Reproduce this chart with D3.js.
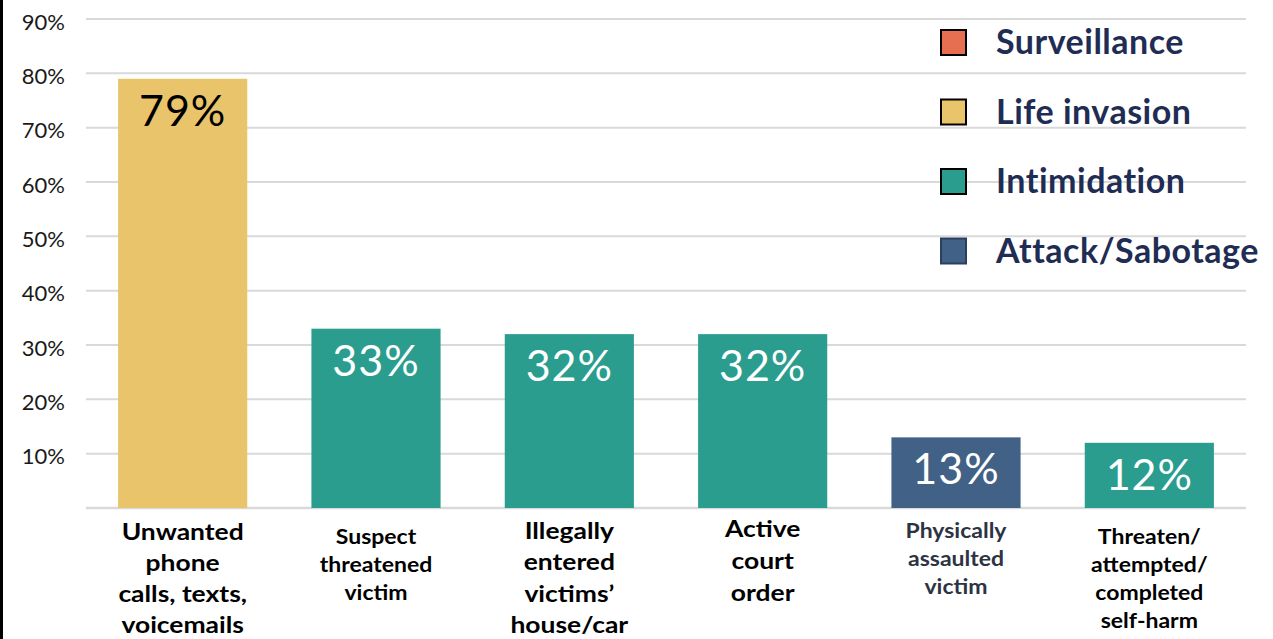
<!DOCTYPE html>
<html>
<head>
<meta charset="utf-8">
<script src="https://cdn.jsdelivr.net/npm/d3@7"></script>
<style>
  html, body { margin: 0; padding: 0; background: #fff; }
  svg { display: block; }
</style>
</head>
<body>
<svg id="chart" width="1273" height="639"></svg>
<script>
// Share of cases showing each stalking behaviour
const categories = [
  ["Unwanted", "phone", "calls, texts,", "voicemails"],
  ["Suspect", "threatened", "victim"],
  ["Illegally", "entered", "victims\u2019", "house/car"],
  ["Active", "court", "order"],
  ["Physically", "assaulted", "victim"],
  ["Threaten/", "attempted/", "completed", "self-harm"]
];
const values = [79, 33, 32, 32, 13, 12];
const groups = ["Life invasion", "Intimidation", "Intimidation", "Intimidation", "Attack/Sabotage", "Intimidation"];

const legendNames = ["Surveillance", "Life invasion", "Intimidation", "Attack/Sabotage"];
const legendColors = ["#e76f51", "#e9c46a", "#2a9d8f", "#416186"];

const yTicks = [10, 20, 30, 40, 50, 60, 70, 80, 90];

// per-category label styling (font size, line spacing, first baseline, colour)
const labelStyle = [
  { size: 23, lh: 31, y0: 540, fill: "#000" },
  { size: 20, lh: 28, y0: 544, fill: "#000" },
  { size: 23, lh: 31.5, y0: 539, fill: "#000" },
  { size: 23, lh: 32, y0: 537, fill: "#000" },
  { size: 20, lh: 28, y0: 538, fill: "#2c3444" },
  { size: 20, lh: 28, y0: 544, fill: "#000" }
];
const labelWiden = 1.15;

const svg = d3.select("#chart");
const W = 1273, H = 639;

const color = d3.scaleOrdinal().domain(legendNames).range(legendColors);

const x = d3.scaleBand()
  .domain(d3.range(values.length))
  .range([86, 1246])
  .paddingInner(0.332)
  .paddingOuter(0.166);

const y = d3.scaleLinear().domain([0, 90]).range([508, 19]);

// left frame line
svg.append("line")
  .attr("x1", 1.5).attr("x2", 1.5).attr("y1", 0).attr("y2", H)
  .attr("stroke", "#000").attr("stroke-width", 3);

// horizontal gridlines including the baseline
svg.append("g")
  .selectAll("line")
  .data([0].concat(yTicks))
  .join("line")
  .attr("x1", 86).attr("x2", 1246)
  .attr("y1", d => y(d)).attr("y2", d => y(d))
  .attr("stroke", "#d9d9d9")
  .attr("stroke-width", d => d === 0 ? 2.5 : 2);

// y-axis tick labels
const yAxis = d3.axisLeft(y)
  .tickValues(yTicks)
  .tickFormat(d => d + "%")
  .tickSize(0)
  .tickPadding(0);

const gy = svg.append("g")
  .attr("transform", "translate(65,3)")
  .call(yAxis);
gy.select(".domain").remove();
gy.selectAll("text")
  .attr("font-family", "Lato, sans-serif")
  .attr("font-size", 22)
  .attr("fill", "#1a1a1a");

// bars
svg.append("g")
  .selectAll("rect")
  .data(values)
  .join("rect")
  .attr("x", (d, i) => x(i))
  .attr("width", x.bandwidth())
  .attr("y", d => y(d))
  .attr("height", d => y(0) - y(d))
  .attr("fill", (d, i) => color(groups[i]));

// value labels inside bars
svg.append("g")
  .selectAll("text")
  .data(values)
  .join("text")
  .attr("x", (d, i) => x(i) + x.bandwidth() / 2)
  .attr("y", d => y(d) + 47)
  .attr("text-anchor", "middle")
  .attr("font-family", "Lato, sans-serif")
  .attr("font-size", 43)
  .attr("letter-spacing", 1)
  .attr("fill", (d, i) => groups[i] === "Life invasion" ? "#000" : "#fff")
  .text(d => d + "%");

// category labels, widened horizontally around each bar centre
const cat = svg.append("g")
  .selectAll("text")
  .data(categories)
  .join("text")
  .attr("text-anchor", "middle")
  .attr("font-family", "Lato, sans-serif")
  .attr("font-weight", 700)
  .attr("font-size", (d, i) => labelStyle[i].size)
  .attr("fill", (d, i) => labelStyle[i].fill)
  .attr("transform", (d, i) => {
    const cx = x(i) + x.bandwidth() / 2;
    return `translate(${cx},0) scale(${labelWiden},1)`;
  });

cat.each(function (lines, i) {
  const s = labelStyle[i];
  d3.select(this).selectAll("tspan")
    .data(lines)
    .join("tspan")
    .attr("x", 0)
    .attr("y", (l, k) => s.y0 + k * s.lh)
    .text(l => l);
});

// legend
const legend = svg.append("g")
  .selectAll("g")
  .data(legendNames)
  .join("g")
  .attr("transform", (d, i) => `translate(941,${30 + i * 69.5})`);

legend.append("rect")
  .attr("width", 25).attr("height", 25)
  .attr("fill", d => color(d))
  .attr("stroke", d => d === "Attack/Sabotage" ? "#2b3f5e" : "#000")
  .attr("stroke-width", 2);

legend.append("text")
  .attr("x", 55)
  .attr("y", 24)
  .attr("font-family", "Lato, sans-serif")
  .attr("font-weight", 700)
  .attr("font-size", 34)
  .attr("letter-spacing", 0.5)
  .attr("fill", "#1f2d54")
  .text(d => d);
</script>
</body>
</html>
